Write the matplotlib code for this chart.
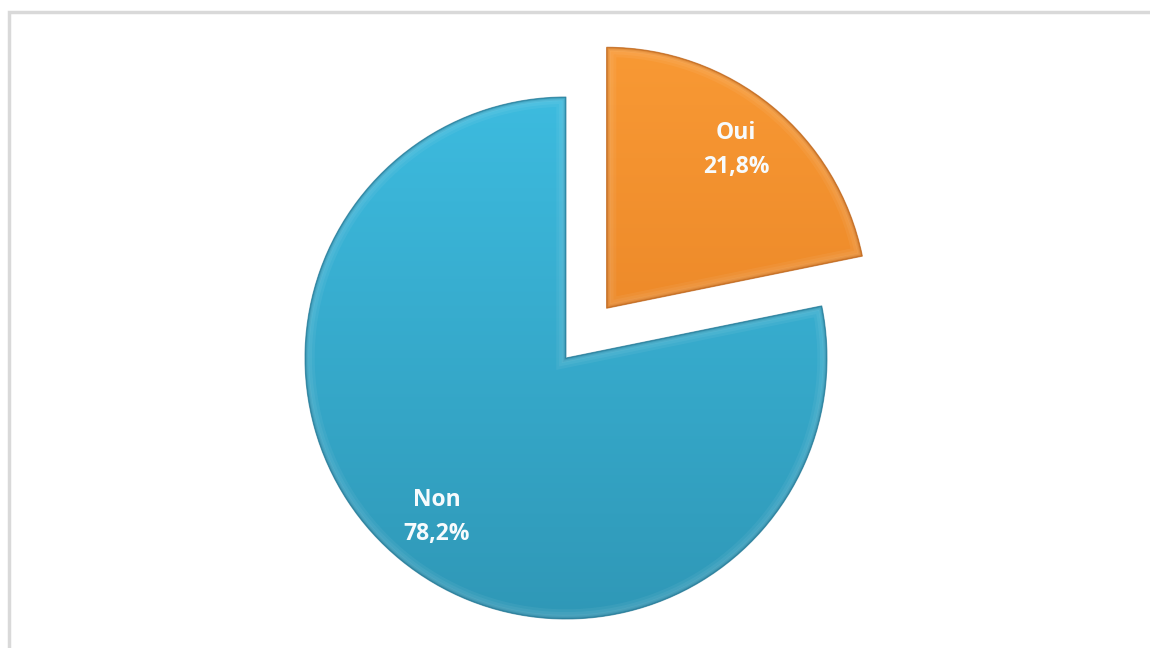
import numpy as np
import matplotlib
matplotlib.use("Agg")
import matplotlib.pyplot as plt
from matplotlib.patches import Rectangle, PathPatch
from matplotlib.colors import LinearSegmentedColormap

labels = ["Oui", "Non"]
shares = [21.8, 78.2]
explode = [0.246, 0.0]
top_colors = ["#f99a35", "#3dbce0"]
bottom_colors = ["#e27b1f", "#2f97b6"]
edge_colors = ["#b85e14", "#1f7390"]

fig = plt.figure(figsize=(11.5, 6.48), dpi=100)
ax = fig.add_axes([0, 0, 1, 1])

# one data unit = pie radius = 261 px, centre at (566, 358) from top-left
r_px = 261.0
cx, cy = 566.0, 358.0
wedges, _ = ax.pie(shares, explode=explode, startangle=90, counterclock=False,
                   radius=1.0, wedgeprops=dict(linewidth=0))
ax.set_xlim(-cx / r_px, (1150 - cx) / r_px)
ax.set_ylim(-(648 - cy) / r_px, cy / r_px)
ax.set_aspect("auto")
ax.axis("off")


def rim_patch(w, **kw):
    p = PathPatch(w.get_path(), transform=w.get_transform(), fill=False, **kw)
    ax.add_patch(p)
    return p


for w, lab, val, c_top, c_bot, c_edge in zip(wedges, labels, shares, top_colors,
                                            bottom_colors, edge_colors):
    w.set_facecolor("none")
    # vertical gradient fill clipped to the wedge
    cmap = LinearSegmentedColormap.from_list("g", [c_bot, c_top])
    grad = np.linspace(0, 1, 256).reshape(-1, 1)
    x0, y0 = w.center
    im = ax.imshow(grad, cmap=cmap, origin="lower", aspect="auto",
                   extent=(x0 - 1.05, x0 + 1.05, y0 - 1.05, y0 + 1.05),
                   interpolation="bicubic", zorder=1)
    im.set_clip_path(w)
    # soft bevel along the rim
    for lw, a in [(14, 0.05), (10, 0.05), (6, 0.06)]:
        hl = rim_patch(w, edgecolor="white", linewidth=lw, alpha=a, zorder=2)
        hl.set_clip_path(w)
    for lw, a in [(5, 0.12), (3, 0.2), (1.6, 0.35)]:
        rim = rim_patch(w, edgecolor=c_edge, linewidth=lw, alpha=a, zorder=2)
        rim.set_clip_path(w)
    rim_patch(w, edgecolor=c_edge, linewidth=0.8, alpha=0.6, zorder=3)

    mid = np.deg2rad((w.theta1 + w.theta2) / 2)
    d = 0.785
    ax.text(x0 + d * np.cos(mid), y0 + d * np.sin(mid),
            f"{lab}\n{val:.1f}%".replace(".", ","),
            ha="center", va="center", color="#f7fbfd", fontsize=16.5,
            fontweight="bold", family=["Open Sans", "DejaVu Sans"],
            linespacing=1.55, zorder=4)

# light grey chart-area frame
fig.add_artist(Rectangle((9 / 1150, -0.05), 1.1, 1 - 12 / 648 + 0.05,
                         transform=fig.transFigure, fill=False,
                         edgecolor="#d9d9d9", linewidth=2.5))

fig.savefig("out.png", dpi=100, facecolor="white")
